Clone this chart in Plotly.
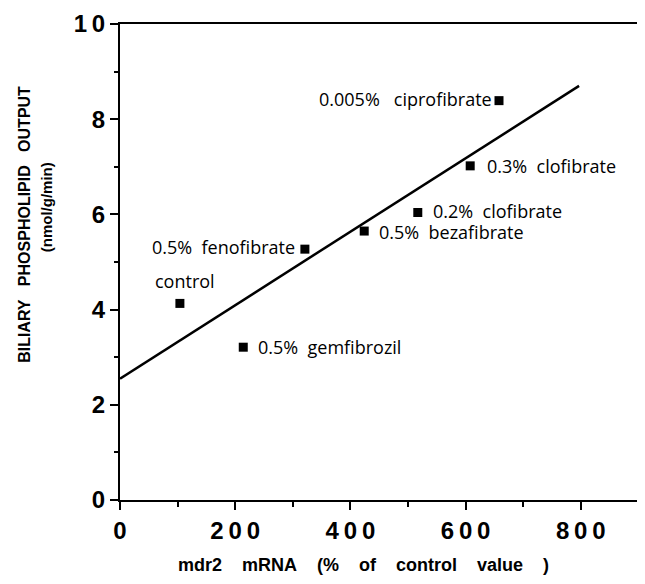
import plotly.graph_objects as go

# Data
treatments = ["control", "0.5% gemfibrozil", "0.5% fenofibrate", "0.5% bezafibrate",
              "0.2% clofibrate", "0.3% clofibrate", "0.005% ciprofibrate"]
mdr2_mrna = [104, 214, 321, 424, 517, 608, 658]
phospholipid = [4.13, 3.21, 5.27, 5.65, 6.04, 7.02, 8.39]

fit_x = [0, 797]
fit_y = [2.55, 8.70]

x_ticks = [0, 200, 400, 600, 800]
y_ticks = [0, 2, 4, 6, 8, 10]

x_title = "mdr2 mRNA (% of control value )"
y_title_main = "BILIARY PHOSPHOLIPID OUTPUT"
y_title_unit = "(nmol/g/min)"

# label placement (style only): anchor, x shift, y shift, word gap
label_style = {
    "control": ("center", 5, 22, 2),
    "0.5% gemfibrozil": ("left", 13, 0, 2),
    "0.5% fenofibrate": ("right", -8, 2, 2),
    "0.5% bezafibrate": ("left", 13, -1, 2),
    "0.2% clofibrate": ("left", 13, 2, 2),
    "0.3% clofibrate": ("left", 15, 0, 2),
    "0.005% ciprofibrate": ("right", -5, 2, 3),
}

NB = "\u00a0"
THIN = "\u2009"


def spaced(s, n):
    return s.replace(" ", NB * n)


fig = go.Figure()
fig.add_trace(go.Scatter(x=fit_x, y=fit_y, mode="lines",
                         line=dict(color="black", width=2.5), hoverinfo="skip"))
fig.add_trace(go.Scatter(x=mdr2_mrna, y=phospholipid, mode="markers",
                         marker=dict(symbol="square", size=9, color="black"),
                         text=treatments))

for name, xv, yv in zip(treatments, mdr2_mrna, phospholipid):
    anchor, dx, dy, gap = label_style[name]
    fig.add_annotation(x=xv, y=yv, xref="x", yref="y", text=spaced(name, gap),
                       showarrow=False, xanchor=anchor, yanchor="middle",
                       xshift=dx, yshift=dy,
                       font=dict(family="Open Sans", size=18, color="black"))

# axis titles as annotations for precise placement
fig.add_annotation(xref="paper", yref="paper", x=0.4665, y=-0.137,
                   text=spaced(x_title, 4), showarrow=False,
                   xanchor="center", yanchor="middle",
                   font=dict(family="Liberation Sans", size=18, color="black", weight="bold"))
fig.add_annotation(xref="paper", yref="paper", x=0, y=0.578, xshift=-95,
                   text=spaced(y_title_main, 3), showarrow=False, textangle=-90,
                   xanchor="center", yanchor="middle",
                   font=dict(family="Liberation Sans", size=16, color="black", weight="bold"))
fig.add_annotation(xref="paper", yref="paper", x=0, y=0.615, xshift=-74,
                   text=y_title_unit, showarrow=False, textangle=-90,
                   xanchor="center", yanchor="middle",
                   font=dict(family="Liberation Sans", size=15, color="black", weight="bold"))

# the page body has an 8px margin, so the figure is sized to fit the window
fig.update_layout(
    width=637, height=576,
    margin=dict(l=112, r=2, t=16, b=84),
    plot_bgcolor="white", paper_bgcolor="white",
    showlegend=False,
    font=dict(family="Liberation Sans", color="black"),
)

fig.update_xaxes(
    range=[0, 908], tickmode="array", tickvals=x_ticks,
    ticktext=[THIN.join(str(v)) for v in x_ticks],
    ticks="outside", ticklen=8, tickwidth=2, tickcolor="black",
    minor=dict(dtick=100, tick0=0, ticks="outside", ticklen=5, tickwidth=2, tickcolor="black"),
    showline=True, linecolor="black", linewidth=2, mirror=True,
    showgrid=False, zeroline=False, automargin=False,
    tickfont=dict(family="Liberation Sans", size=24, color="black", weight="bold"),
)
fig.update_yaxes(
    range=[0, 10], tickmode="array", tickvals=y_ticks,
    ticktext=[THIN.join(str(v)) for v in y_ticks],
    ticks="outside", ticklen=8, tickwidth=2, tickcolor="black",
    minor=dict(dtick=1, tick0=0, ticks="outside", ticklen=4, tickwidth=2, tickcolor="black"),
    showline=True, linecolor="black", linewidth=2, mirror=True,
    showgrid=False, zeroline=False, automargin=False,
    tickfont=dict(family="Liberation Sans", size=24, color="black", weight="bold"),
)

fig.write_html("out.html")
